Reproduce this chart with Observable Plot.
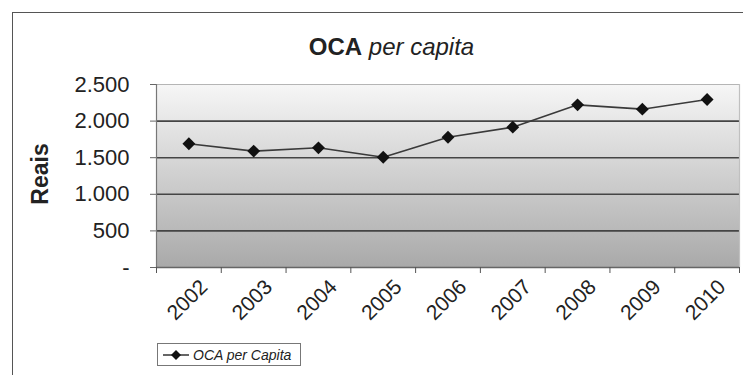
<!DOCTYPE html>
<html>
<head>
<meta charset="utf-8">
<script src="https://cdn.jsdelivr.net/npm/d3@7"></script>
<script src="https://cdn.jsdelivr.net/npm/@observablehq/plot@0.6"></script>
<style>
  html, body { margin: 0; padding: 0; background: #fff; overflow: hidden; }
  #wrap { position: relative; width: 743px; height: 375px; font-family: "Liberation Sans", Arial, sans-serif; }
  #frameBox { position: absolute; left: 12px; top: 12px; width: 900px; height: 500px; border-left: 1.5px solid #555; border-top: 1.5px solid #555; box-sizing: border-box; }
  #chart { position: absolute; left: 0; top: 0; }
  #title { position: absolute; left: 20px; top: 35px; width: 743px; text-align: center; font-size: 24px; line-height: 24px; color: #222; }
  #title b { font-weight: bold; }
  #title i { font-style: italic; }
  #legend { position: absolute; left: 157px; top: 343px; width: 144px; height: 23px; box-sizing: border-box; border: 1px solid #777; background: #fff; display: flex; align-items: center; }
  #legend span { font-style: italic; font-size: 14px; color: #222; margin-left: 2px; }
</style>
</head>
<body>
<div id="wrap">
  <div id="frameBox"></div>
  <div id="chart"></div>
  <div id="title"><b>OCA</b> <i>per capita</i></div>
  <div id="legend">
    <svg width="30" height="14" style="margin-left:3px"><line x1="2" y1="7" x2="28" y2="7" stroke="#333" stroke-width="1.5"/><path d="M15,2 L20,7 L15,12 L10,7 Z" fill="#111"/></svg>
    <span>OCA per Capita</span>
  </div>
</div>
<script>
const years = [2002, 2003, 2004, 2005, 2006, 2007, 2008, 2009, 2010];
const values = [1690, 1590, 1635, 1507, 1780, 1917, 2222, 2163, 2295];
const yTicks = [0, 500, 1000, 1500, 2000, 2500];
const gridValues = [500, 1000, 1500, 2000];
const bandEdges = [2001.5, 2002.5, 2003.5, 2004.5, 2005.5, 2006.5, 2007.5, 2008.5, 2009.5, 2010.5];

const data = years.map((y, i) => ({year: y, value: values[i]}));
const fmt = d => d === 0 ? "-" : d3.format(",")(d).replace(/,/g, ".");

const plot = Plot.plot({
  width: 743,
  height: 375,
  marginLeft: 156,
  marginRight: 4,
  marginTop: 84,
  marginBottom: 108,
  style: {fontFamily: "'Liberation Sans', Arial, sans-serif", background: "transparent", overflow: "visible"},
  x: {domain: [2001.5, 2010.5], axis: null},
  y: {domain: [0, 2500], axis: null},
  marks: [
    Plot.frame({fill: "url(#bgGrad)", stroke: "none"}),
    Plot.ruleY(gridValues, {stroke: "#454545", strokeWidth: 1.6}),
    Plot.ruleY([2500], {stroke: "#b5b5b5", strokeWidth: 1.2}),
    Plot.ruleX([2010.5], {stroke: "#c0c0c0", strokeWidth: 1.2}),
    Plot.ruleX([2001.5], {stroke: "#777", strokeWidth: 1.2}),
    Plot.axisY({ticks: yTicks, tickFormat: fmt, tickSize: 6, tickPadding: 21, fontSize: 22, color: "#222", stroke: "#666", label: null}),
    Plot.ruleY([0], {stroke: "#666", strokeWidth: 1.5}),
    Plot.axisX({ticks: bandEdges, tickFormat: () => "", tickSize: 6, stroke: "#555", label: null}),
    Plot.text(years, {x: d => d, frameAnchor: "bottom", dx: 15, dy: 16, rotate: -45, textAnchor: "end", lineAnchor: "middle", fontSize: 21, fill: "#222", text: d => String(d)}),
    Plot.text(["Reais"], {frameAnchor: "left", dx: -116, dy: -2, rotate: -90, textAnchor: "middle", fontSize: 23, fontWeight: "bold", fill: "#222", lineAnchor: "middle"}),
    Plot.line(data, {x: "year", y: "value", stroke: "#3a3a3a", strokeWidth: 1.6}),
    Plot.dot(data, {x: "year", y: "value", symbol: "diamond2", r: 5.8, fill: "#111", stroke: "none"})
  ]
});

const svg = d3.select(plot);
const defs = svg.insert("defs", ":first-child");
const grad = defs.append("linearGradient").attr("id", "bgGrad").attr("x1", 0).attr("y1", 0).attr("x2", 0).attr("y2", 1);
grad.append("stop").attr("offset", "0%").attr("stop-color", "#f6f6f6");
grad.append("stop").attr("offset", "100%").attr("stop-color", "#a9a9a9");
svg.selectAll("[aria-label=frame] rect, rect[aria-label=frame]").attr("fill", "url(#bgGrad)");
document.getElementById("chart").appendChild(plot);
</script>
</body>
</html>
